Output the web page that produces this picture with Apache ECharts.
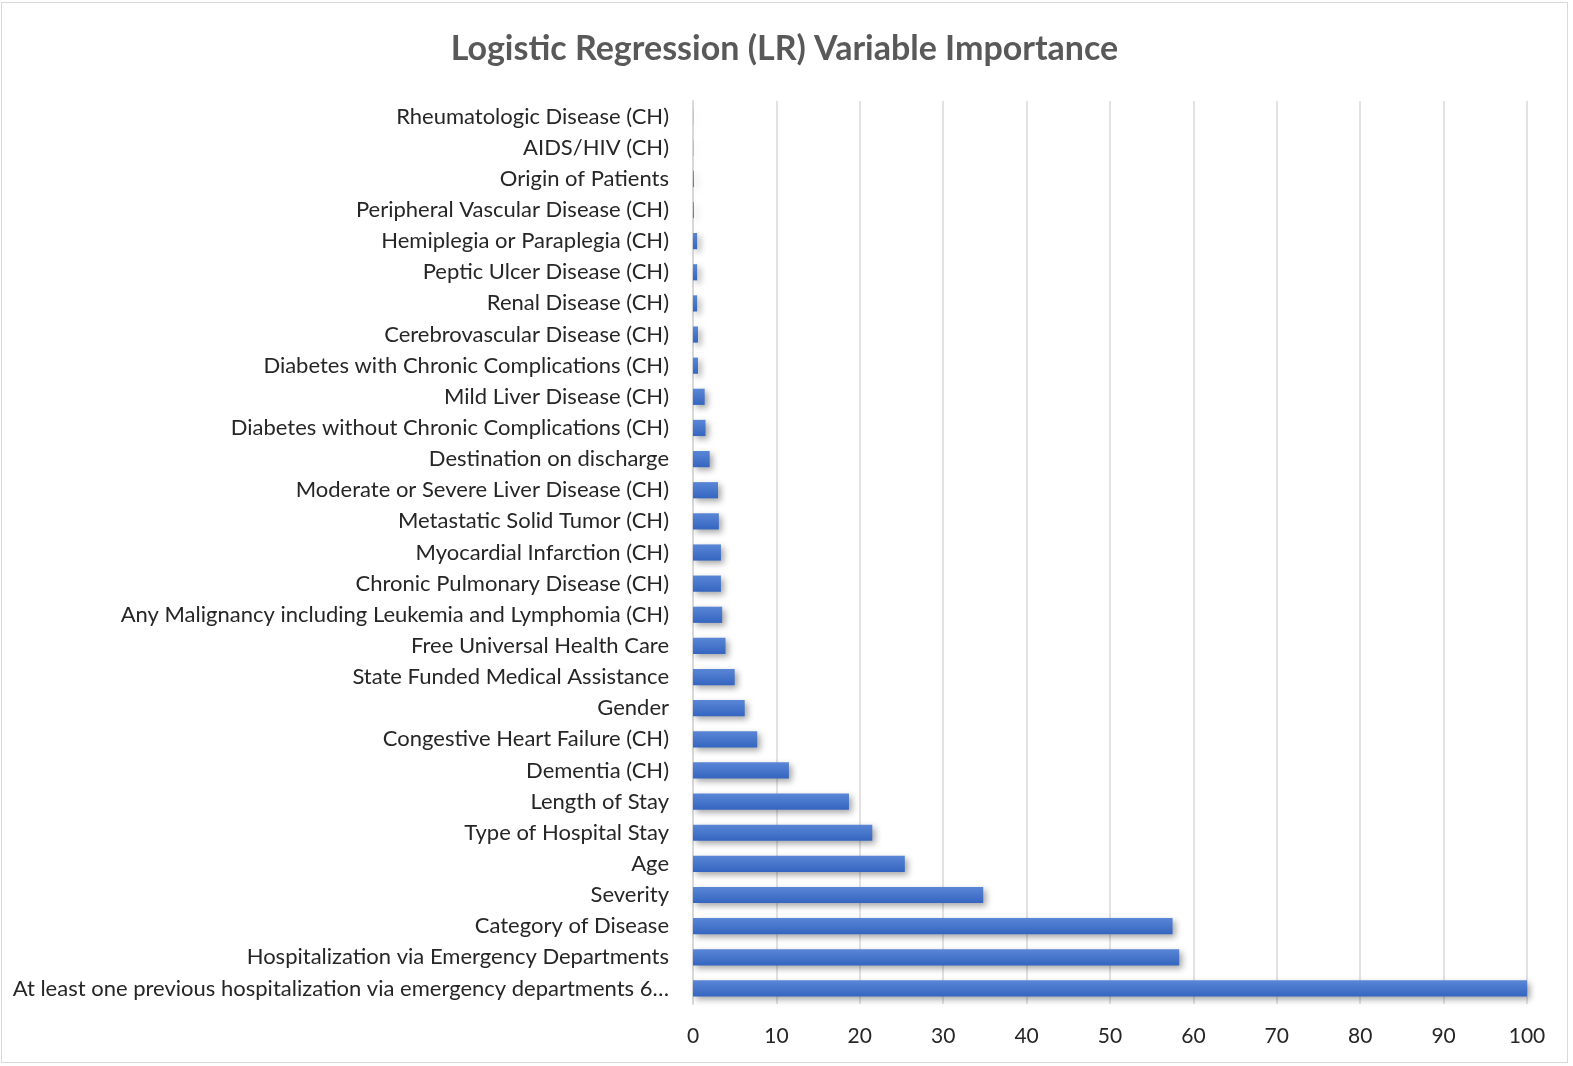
<!DOCTYPE html>
<html>
<head>
<meta charset="utf-8">
<script src="https://cdn.jsdelivr.net/npm/echarts@6/dist/echarts.min.js"></script>
<style>
  html, body { margin: 0; padding: 0; background: #ffffff; }
  #chart { position: absolute; left: 1px; top: 2px; width: 1567px; height: 1061px;
           border: 1px solid #d9d9d9; box-sizing: border-box; }
</style>
</head>
<body>
<div id="chart"></div>
<script>
// categories listed bottom to top (as ECharts draws a category y axis)
const categories = [
  'At least one previous hospitalization via emergency departments 6…',
  'Hospitalization via Emergency Departments',
  'Category of Disease',
  'Severity',
  'Age',
  'Type of Hospital Stay',
  'Length of Stay',
  'Dementia (CH)',
  'Congestive Heart Failure (CH)',
  'Gender',
  'State Funded Medical Assistance',
  'Free Universal Health Care',
  'Any Malignancy including Leukemia and Lymphomia (CH)',
  'Chronic Pulmonary Disease (CH)',
  'Myocardial Infarction (CH)',
  'Metastatic Solid Tumor (CH)',
  'Moderate or Severe Liver Disease (CH)',
  'Destination on discharge',
  'Diabetes without Chronic Complications (CH)',
  'Mild Liver Disease (CH)',
  'Diabetes with Chronic Complications (CH)',
  'Cerebrovascular Disease (CH)',
  'Renal Disease (CH)',
  'Peptic Ulcer Disease (CH)',
  'Hemiplegia or Paraplegia (CH)',
  'Peripheral Vascular Disease (CH)',
  'Origin of Patients',
  'AIDS/HIV (CH)',
  'Rheumatologic Disease (CH)'
];

const importance = [
  100, 58.3, 57.5, 34.8, 25.4, 21.5, 18.7, 11.5, 7.7, 6.2,
  5.0, 3.9, 3.5, 3.35, 3.35, 3.1, 3.0, 2.0, 1.5, 1.4,
  0.6, 0.6, 0.5, 0.5, 0.5, 0.1, 0.1, 0.03, 0.02
];

const xTicks = [0, 100, 10]; // min, max, interval

const chart = echarts.init(document.getElementById('chart'));

const labelFont = 'Lato, "Open Sans", sans-serif';

chart.setOption({
  backgroundColor: '#ffffff',
  animation: false,
  title: {
    text: 'Logistic Regression (LR) Variable Importance',
    left: 'center',
    top: 24,
    textStyle: {
      color: '#595959',
      fontFamily: labelFont,
      fontSize: 34,
      fontWeight: 'bold'
    }
  },
  grid: {
    left: 691,
    right: 40,
    top: 98,
    bottom: 58
  },
  xAxis: {
    type: 'value',
    min: xTicks[0],
    max: xTicks[1],
    interval: xTicks[2],
    axisLine: { show: false },
    axisTick: { show: false },
    axisLabel: {
      color: '#262626',
      fontFamily: labelFont,
      fontSize: 21,
      margin: 22
    },
    splitLine: { lineStyle: { color: '#d9d9d9', width: 1.5 } }
  },
  yAxis: {
    type: 'category',
    data: categories,
    axisLine: { show: true, lineStyle: { color: '#d9d9d9', width: 2 } },
    axisTick: { show: false },
    axisLabel: {
      color: '#262626',
      fontFamily: labelFont,
      fontSize: 22,
      margin: 24
    }
  },
  series: [{
    type: 'bar',
    data: importance,
    barCategoryGap: '48%',
    itemStyle: {
      color: new echarts.graphic.LinearGradient(0, 0, 0, 1, [
        { offset: 0, color: '#5a86d6' },
        { offset: 1, color: '#3465c0' }
      ]),
      shadowColor: 'rgba(0,0,0,0.35)',
      shadowBlur: 6,
      shadowOffsetX: 3,
      shadowOffsetY: 3
    }
  }]
});
</script>
</body>
</html>
